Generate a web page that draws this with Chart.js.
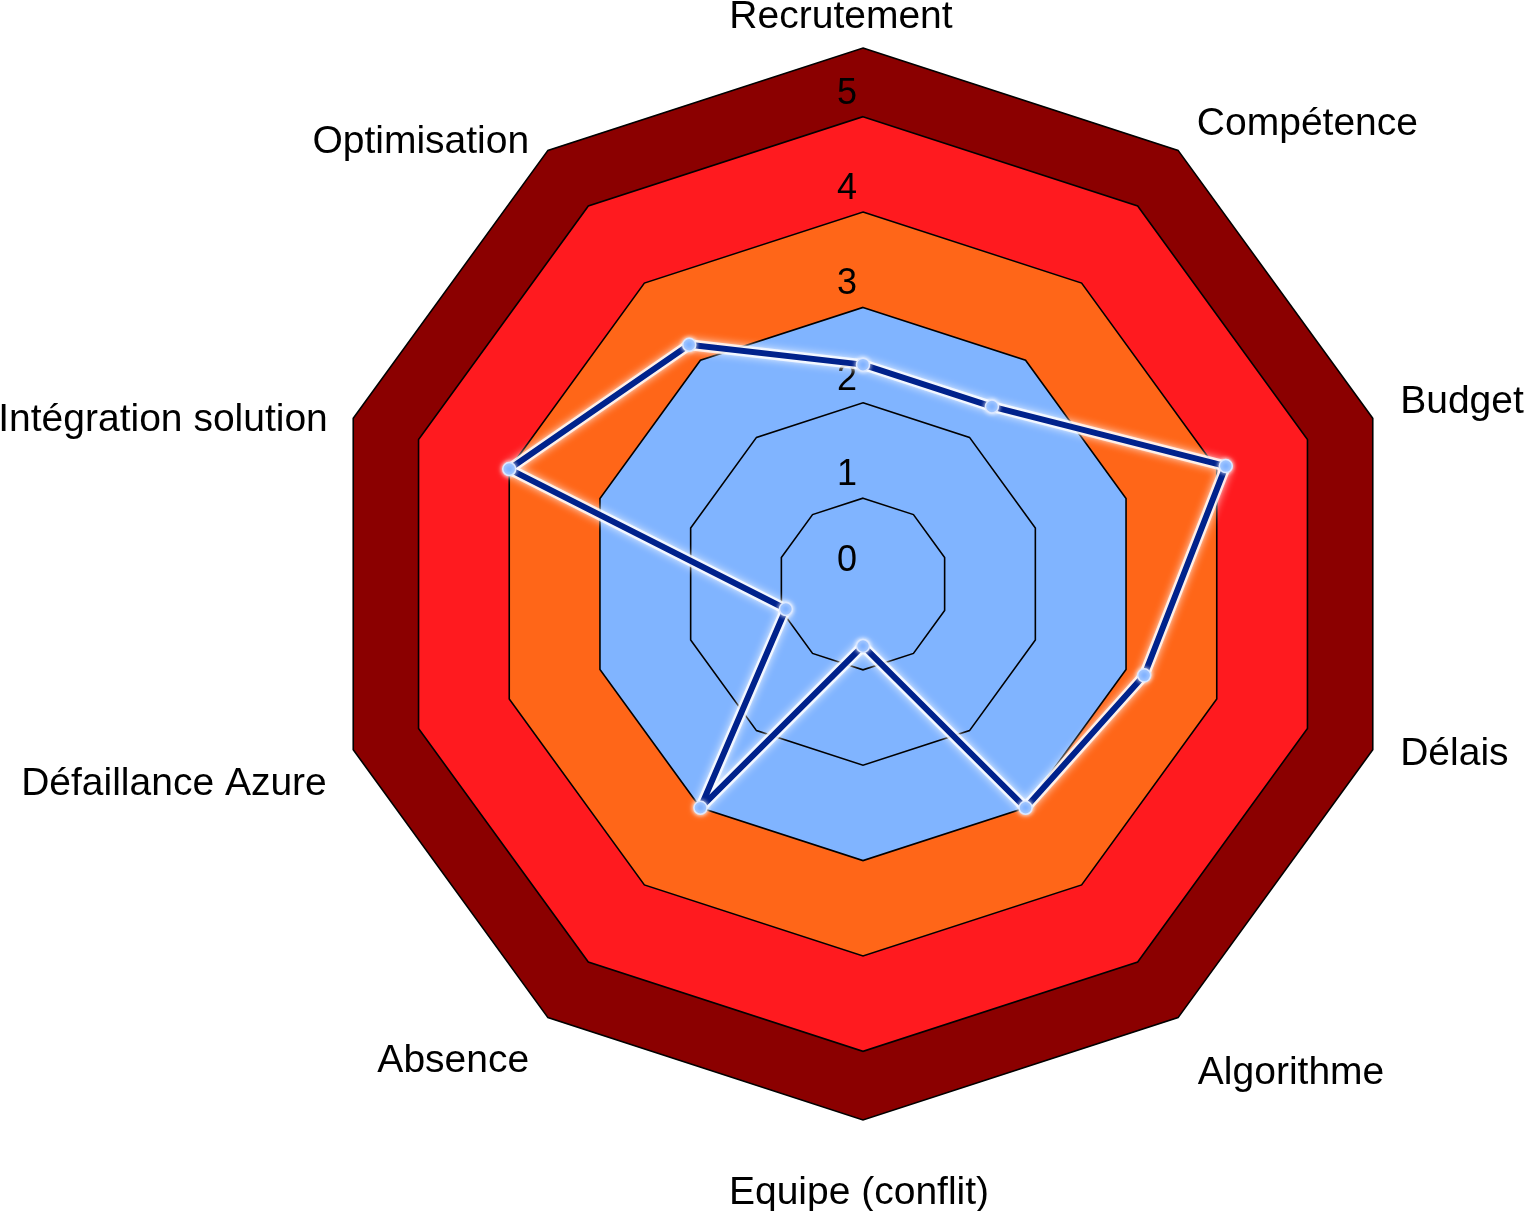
<!DOCTYPE html>
<html>
<head>
<meta charset="utf-8">
<script src="https://cdn.jsdelivr.net/npm/chart.js@4.4.1/dist/chart.umd.min.js"></script>
<style>
  html, body { margin: 0; padding: 0; background: #ffffff; }
  #wrap { width: 1524px; height: 1211px; }
</style>
</head>
<body>
<div id="wrap"><canvas id="c" width="1524" height="1211"></canvas></div>
<script>
// ---- data ----
const categories = ['Recrutement', 'Compétence', 'Budget', 'Délais', 'Algorithme',
  'Equipe (conflit)', 'Absence', 'Défaillance Azure', 'Intégration solution', 'Optimisation'];
const riskScores = [2.4, 2.4, 4.1, 3.2, 3.0, 0.75, 3.0, 0.95, 4.0, 3.2];
const bandLevels = [5.72, 5, 4, 3];          // filled zones, outer to inner
const gridLevels = [2, 1];                   // plain rings inside the inner zone
const tickValues = [0, 1, 2, 3, 4, 5];
const scaleMin = 0.1;
const scaleMax = 5.72;

// ---- styles ----
const bandColors = ['#8b0000', '#ff1a1f', '#ff6618', '#80b4ff'];
const lineColor = '#00228c';
const FONT = '"Liberation Sans", Arial, sans-serif';
// label nudges (layout only): [dx, dy] per category position
const labelNudge = [[-22, 1], [0, 0], [-3, -6], [-3, -5], [1, 30], [-4, 41], [0, 18], [4, 25], [5, 12], [0, 18]];

const n = categories.length;
const fillSeries = (v) => categories.map(() => v);

const datasets = [];
datasets.push({
  label: 'Risques',
  data: riskScores,
  borderColor: lineColor,
  borderWidth: 6,
  fill: false,
  pointRadius: 6.5,
  pointBackgroundColor: '#80b2ff',
  pointBorderColor: '#dce8ff',
  pointBorderWidth: 1.5,
  borderJoinStyle: 'round',
  tension: 0
});
datasets.push({
  data: riskScores,
  borderColor: 'rgba(255,255,255,0.75)',
  borderWidth: 11,
  fill: false,
  pointRadius: 0, pointHoverRadius: 0,
  borderJoinStyle: 'round'
});
gridLevels.forEach(v => datasets.push({
  data: fillSeries(v), borderColor: '#000', borderWidth: 1.6, fill: false,
  pointRadius: 0, pointHoverRadius: 0
}));
bandLevels.slice().reverse().forEach((v, k) => {
  const idx = bandLevels.length - 1 - k;
  datasets.push({
    data: fillSeries(v), borderColor: '#000', borderWidth: 1.6,
    backgroundColor: bandColors[idx], fill: 'start',
    pointRadius: 0, pointHoverRadius: 0
  });
});

const labelPlugin = {
  id: 'labels',
  beforeDatasetDraw(chart, args) {
    const ctx = chart.ctx;
    if (args.index === 1) {
      const s = chart.scales.r;
      ctx.save();
      ctx.font = '36px ' + FONT;
      ctx.fillStyle = '#000';
      ctx.textAlign = 'center';
      ctx.textBaseline = 'middle';
      tickValues.forEach(v => {
        const d = Math.max(s.getDistanceFromCenterForValue(v), 0);
        ctx.fillText(String(v), s.xCenter - 16, s.yCenter - d - 23);
      });
      ctx.restore();
      ctx.save();
      ctx.shadowColor = 'rgba(255,255,255,1)';
      ctx.shadowBlur = 8;
    } else if (args.index === 0) {
      ctx.save();
      ctx.shadowColor = 'rgba(255,255,255,0.9)';
      ctx.shadowBlur = 4;
    }
  },
  afterDatasetDraw(chart, args) {
    if (args.index === 0 || args.index === 1) chart.ctx.restore();
  },
  afterDraw(chart) {
    const s = chart.scales.r;
    const ctx = chart.ctx;
    ctx.save();
    ctx.font = '39px ' + FONT;
    ctx.fillStyle = '#000';
    ctx.textBaseline = 'middle';
    categories.forEach((lab, i) => {
      const p = s.getPointPosition(i, s.drawingArea + 32);
      const deg = i * 360 / n;
      if (deg === 0 || deg === 180) ctx.textAlign = 'center';
      else if (deg < 180) ctx.textAlign = 'left';
      else ctx.textAlign = 'right';
      const nd = labelNudge[i] || [0, 0];
      ctx.fillText(lab, p.x + nd[0], p.y + nd[1]);
    });
    ctx.restore();
  }
};

new Chart(document.getElementById('c'), {
  type: 'radar',
  data: { labels: categories, datasets },
  options: {
    responsive: false,
    devicePixelRatio: 1,
    animation: false,
    layout: { padding: { top: 48, left: 327, right: 125, bottom: 91 } },
    plugins: { legend: { display: false }, tooltip: { enabled: false } },
    scales: {
      r: {
        min: scaleMin,
        max: scaleMax,
        ticks: { display: false, stepSize: 1 },
        grid: { display: false },
        angleLines: { display: false },
        pointLabels: { display: false }
      }
    }
  },
  plugins: [labelPlugin]
});
</script>
</body>
</html>
